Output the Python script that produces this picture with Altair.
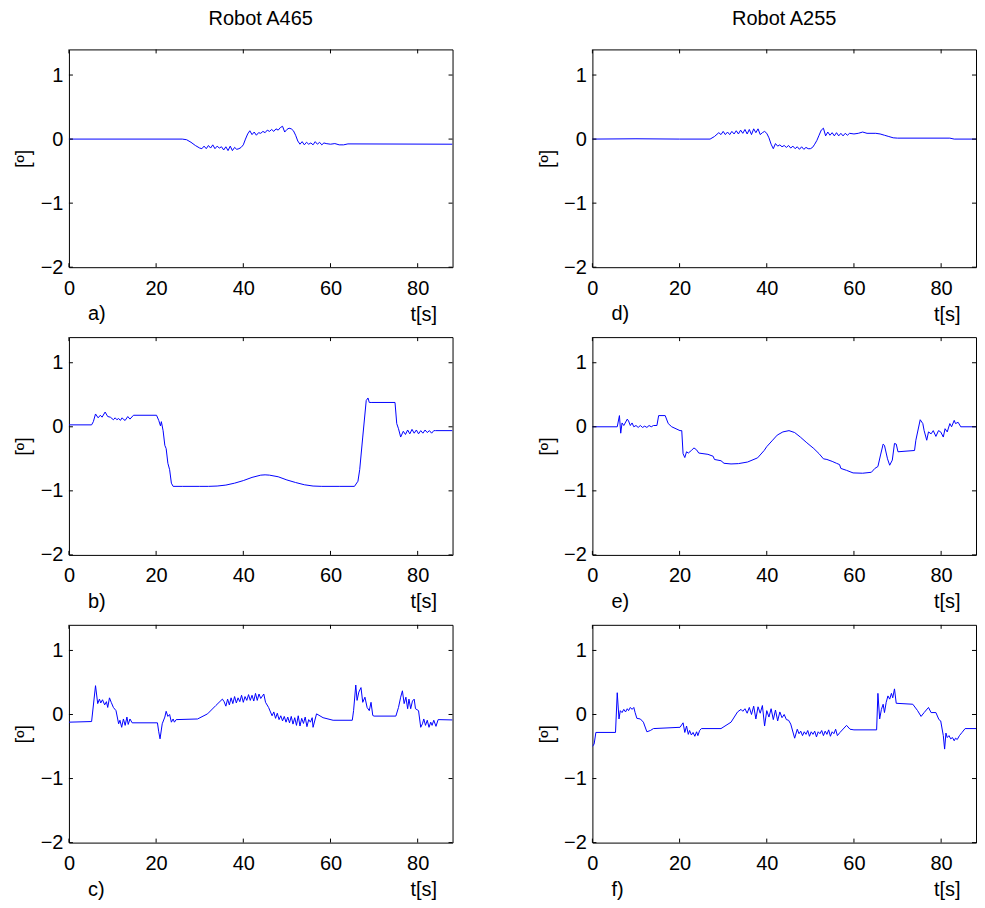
import altair as alt
import pandas as pd

FONT = "Liberation Sans, Arial, Helvetica, sans-serif"

# ---- data: (t [s], angle [º]) ----
a_pts = [(0, 0.0), (26, 0.0), (27, -0.01), (28, -0.05), (29, -0.10), (30, -0.14), (30.5, -0.15),
         (31, -0.11), (31.5, -0.15), (32, -0.10), (32.5, -0.14), (33, -0.09), (33.5, -0.15),
         (34, -0.11), (34.5, -0.14), (35, -0.12), (35.5, -0.17), (36, -0.12), (36.5, -0.18),
         (37, -0.11), (37.5, -0.18), (38, -0.13), (38.5, -0.16), (39, -0.15), (39.5, -0.13),
         (40, -0.09), (40.5, 0.0), (41, 0.08), (41.5, 0.13), (42, 0.07), (42.5, 0.11), (43, 0.06),
         (43.5, 0.10), (44, 0.09), (44.5, 0.12), (45, 0.10), (45.5, 0.14), (46, 0.12), (46.5, 0.15),
         (47, 0.12), (47.5, 0.16), (48, 0.14), (48.5, 0.18), (49, 0.20), (49.5, 0.11), (50, 0.15),
         (50.5, 0.17), (51, 0.16), (51.5, 0.13), (52, 0.06), (52.5, -0.03), (53, -0.08),
         (53.5, -0.04), (54, -0.09), (54.5, -0.05), (55, -0.08), (55.5, -0.06), (56, -0.09),
         (56.5, -0.04), (57, -0.08), (57.5, -0.05), (58, -0.09), (58.5, -0.06), (59, -0.07),
         (60, -0.08), (61, -0.07), (62, -0.09), (63, -0.09), (64, -0.075), (88, -0.08)]

d_pts = [(0, 0.0), (10, 0.005), (20, 0.0), (27, 0.0), (28, 0.04), (29, 0.10), (29.5, 0.07),
         (30, 0.12), (30.5, 0.07), (31, 0.11), (31.5, 0.07), (32, 0.12), (32.5, 0.08), (33, 0.13),
         (33.5, 0.08), (34, 0.14), (34.5, 0.09), (35, 0.15), (35.5, 0.08), (36, 0.15), (36.5, 0.07),
         (37, 0.16), (37.5, 0.10), (38, 0.16), (38.5, 0.07), (39, 0.10), (39.5, 0.12), (40, 0.09),
         (40.5, 0.02), (41, -0.08), (41.5, -0.15), (42, -0.07), (42.5, -0.11), (43, -0.09),
         (43.5, -0.12), (44, -0.10), (44.5, -0.13), (45, -0.10), (45.5, -0.14), (46, -0.11),
         (46.5, -0.15), (47, -0.12), (47.5, -0.16), (48, -0.12), (48.5, -0.16), (49, -0.13),
         (49.5, -0.15), (50, -0.15), (50.5, -0.13), (51, -0.08), (51.5, -0.02), (52, 0.06),
         (52.5, 0.14), (53, 0.17), (53.5, 0.05), (54, 0.11), (54.5, 0.06), (55, 0.10), (55.5, 0.05),
         (56, 0.10), (56.5, 0.05), (57, 0.09), (57.5, 0.05), (58, 0.09), (58.5, 0.06), (59, 0.09),
         (60, 0.08), (61, 0.09), (62, 0.11), (63, 0.09), (65, 0.09), (66, 0.08), (67, 0.06),
         (68, 0.04), (69, 0.02), (70, 0.015), (82, 0.015), (83, 0.0), (88, 0.0)]

b_pts = [(0, 0.03), (5.2, 0.03), (5.6, 0.08), (6.1, 0.20), (6.7, 0.14), (7.2, 0.18), (7.6, 0.15),
         (8.3, 0.23), (8.9, 0.16), (9.5, 0.15), (10.2, 0.11), (10.6, 0.14), (11.0, 0.11),
         (11.4, 0.13), (11.8, 0.10), (12.2, 0.14), (12.6, 0.11), (12.9, 0.10), (13.5, 0.16),
         (14.0, 0.12), (14.8, 0.18), (20.1, 0.18), (20.6, 0.10), (21.0, 0.015), (21.2, 0.08),
         (21.6, -0.06), (22.0, -0.29), (22.3, -0.34), (22.7, -0.57), (23.1, -0.67), (23.5, -0.88),
         (23.9, -0.93), (26, -0.93), (30, -0.93), (32, -0.93), (34, -0.925), (36, -0.91),
         (38, -0.88), (40, -0.84), (42, -0.79), (44, -0.755), (45, -0.75), (46, -0.755),
         (48, -0.78), (50, -0.83), (52, -0.87), (54, -0.905), (56, -0.925), (58, -0.93),
         (62, -0.93), (65.5, -0.93), (66.3, -0.85), (66.7, -0.67), (67.4, -0.16), (68.2, 0.41),
         (68.6, 0.45), (68.9, 0.38), (69.5, 0.38), (74.8, 0.38), (75.2, 0.05), (75.6, -0.03),
         (76.1, -0.16), (76.7, -0.07), (77.2, -0.12), (77.7, -0.05), (78.2, -0.11), (78.7, -0.04),
         (79.2, -0.10), (79.7, -0.05), (80.2, -0.11), (80.7, -0.06), (81.2, -0.10), (81.7, -0.05),
         (82.2, -0.09), (82.7, -0.06), (83.2, -0.10), (83.7, -0.06), (84.1, -0.06), (88, -0.06)]

e_pts = [(0, 0.0), (5.7, 0.0), (6.2, 0.175), (6.5, -0.10), (6.8, 0.06), (7.2, 0.02), (8.0, 0.12),
         (8.3, 0.09), (8.7, 0.02), (9.1, 0.06), (9.5, 0.0), (10.0, 0.02), (10.5, -0.01), (11.0, 0.02),
         (11.5, -0.01), (12.0, 0.01), (12.5, -0.01), (13.0, 0.02), (13.5, 0.0), (14.0, 0.02),
         (14.8, 0.02), (15.2, 0.175), (16.7, 0.175), (17.4, 0.05), (18.2, 0.0), (20.1, -0.06),
         (20.5, -0.06), (20.8, -0.42), (21.2, -0.48), (21.6, -0.39), (22.0, -0.41), (22.7, -0.37),
         (23.3, -0.33), (23.9, -0.36), (24.4, -0.41), (26.5, -0.43), (27.7, -0.46), (28.0, -0.51),
         (29.5, -0.53), (30.2, -0.57), (31.8, -0.58), (33.5, -0.575), (35.6, -0.55), (37.9, -0.485),
         (39.4, -0.37), (40.0, -0.31), (41.2, -0.22), (42.4, -0.13), (43.7, -0.08), (45.1, -0.06),
         (46.4, -0.09), (47.7, -0.16), (49.2, -0.25), (50.8, -0.34), (52.0, -0.42), (53.0, -0.50),
         (53.8, -0.51), (55.0, -0.54), (56.0, -0.57), (56.7, -0.59), (57.0, -0.65), (58.3, -0.68),
         (59.8, -0.72), (62.0, -0.725), (64.0, -0.71), (64.8, -0.65), (65.5, -0.62), (66.1, -0.44),
         (66.7, -0.27), (67.0, -0.29), (67.7, -0.50), (68.2, -0.60), (68.8, -0.52), (69.3, -0.26),
         (69.7, -0.27), (70.1, -0.39), (73.9, -0.37), (74.2, -0.21), (75.2, 0.11), (75.8, 0.05),
         (76.1, -0.06), (76.7, -0.21), (77.1, -0.08), (77.7, -0.11), (78.2, -0.06), (78.8, -0.15),
         (79.4, -0.06), (79.9, -0.08), (80.5, -0.16), (80.9, -0.03), (81.4, -0.08), (82.0, 0.05),
         (82.4, 0.0), (83.0, 0.10), (83.3, 0.05), (83.9, 0.07), (84.5, 0.0), (88, 0.0)]

c_pts = [(0, -0.12), (5.2, -0.11), (6.1, 0.45), (6.6, 0.17), (7.0, 0.24), (7.3, 0.18), (7.7, 0.23),
         (8.2, 0.15), (8.6, 0.20), (8.9, 0.11), (9.3, 0.26), (9.7, 0.19), (10.2, 0.11), (10.8, 0.06),
         (11.4, -0.145), (11.7, -0.09), (12.1, -0.20), (12.5, -0.07), (12.9, -0.17), (13.3, -0.04),
         (13.6, -0.155), (14.0, -0.07), (14.5, -0.13), (20.3, -0.13), (20.6, -0.27), (20.9, -0.38),
         (21.4, -0.145), (22.0, -0.04), (22.3, 0.05), (22.7, -0.03), (23.1, 0.0), (23.5, -0.12),
         (23.9, -0.07), (24.2, -0.12), (24.6, -0.08), (29.5, -0.07), (31.8, 0.01), (33.7, 0.14),
         (35.2, 0.24), (35.6, 0.20), (36.0, 0.13), (36.4, 0.24), (36.8, 0.15), (37.2, 0.26),
         (37.6, 0.17), (38.0, 0.28), (38.4, 0.18), (38.8, 0.26), (39.2, 0.20), (39.6, 0.30),
         (40.0, 0.19), (40.4, 0.28), (40.8, 0.22), (41.2, 0.31), (41.6, 0.22), (42.0, 0.30),
         (42.4, 0.21), (42.8, 0.33), (43.2, 0.22), (43.6, 0.32), (44.0, 0.25), (44.7, 0.32),
         (45.1, 0.19), (45.8, 0.11), (46.6, -0.02), (47.0, 0.04), (47.4, -0.06), (47.8, 0.02),
         (48.2, -0.08), (48.6, -0.02), (49.0, -0.10), (49.4, -0.03), (49.8, -0.12), (50.2, -0.04),
         (50.6, -0.13), (51.0, -0.03), (51.4, -0.15), (51.8, -0.05), (52.2, -0.17), (52.6, -0.02),
         (53.0, -0.18), (53.4, -0.06), (53.8, -0.14), (54.2, -0.04), (54.6, -0.19), (55.0, -0.08),
         (55.4, -0.12), (55.8, -0.05), (56.0, -0.20), (56.8, 0.01), (58.3, -0.05), (60.6, -0.09),
         (65.0, -0.09), (65.3, 0.06), (65.8, 0.46), (66.1, 0.22), (66.5, 0.35), (67.0, 0.42),
         (67.4, 0.19), (67.9, 0.27), (68.4, 0.11), (68.9, 0.06), (69.3, 0.19), (69.7, -0.015),
         (70.0, -0.025), (75.0, -0.025), (75.6, 0.11), (76.1, 0.27), (76.5, 0.37), (76.9, 0.17),
         (77.3, 0.27), (77.7, 0.09), (78.0, 0.24), (78.4, 0.09), (78.8, 0.21), (79.2, 0.24),
         (79.5, 0.09), (80.2, 0.06), (80.7, -0.20), (81.1, -0.145), (81.4, -0.07), (81.8, -0.17),
         (82.2, -0.09), (82.6, -0.20), (83.0, -0.12), (83.3, -0.17), (83.7, -0.09), (84.2, -0.185),
         (84.7, -0.08), (88, -0.085)]

f_pts = [(0, -0.50), (0.4, -0.46), (0.8, -0.28), (5.3, -0.28), (5.7, 0.34), (6.1, -0.07), (6.4, 0.06),
         (6.8, 0.03), (7.2, 0.08), (7.6, 0.04), (8.0, 0.09), (8.3, 0.06), (8.7, 0.11), (9.1, 0.08),
         (9.5, 0.11), (9.8, 0.03), (10.2, -0.06), (11.0, -0.07), (11.7, -0.12), (12.5, -0.27),
         (13.3, -0.25), (14.0, -0.22), (20.1, -0.20), (20.8, -0.13), (21.2, -0.28), (21.6, -0.18),
         (22.0, -0.31), (22.3, -0.25), (22.7, -0.32), (23.1, -0.28), (23.5, -0.34), (23.9, -0.27),
         (24.2, -0.33), (24.6, -0.25), (25.0, -0.22), (29.5, -0.22), (31.8, -0.12), (33.3, 0.04),
         (34.1, 0.08), (34.5, 0.05), (35.0, 0.09), (35.5, 0.02), (36.0, 0.11), (36.5, 0.0),
         (37.0, 0.13), (37.5, -0.07), (38.0, 0.12), (38.5, 0.02), (39.0, 0.14), (39.5, -0.18),
         (40.0, 0.06), (40.5, -0.04), (41.0, 0.09), (41.5, -0.08), (42.0, 0.07), (42.5, -0.10),
         (43.0, 0.04), (43.5, -0.05), (44.0, 0.0), (44.5, -0.08), (45.0, -0.09), (45.5, -0.15),
         (46.4, -0.37), (47.0, -0.23), (47.4, -0.30), (47.8, -0.26), (48.2, -0.33), (48.6, -0.27),
         (49.0, -0.31), (49.4, -0.25), (49.8, -0.34), (50.2, -0.27), (50.6, -0.31), (51.0, -0.26),
         (51.4, -0.35), (51.8, -0.27), (52.2, -0.30), (52.6, -0.25), (53.0, -0.33), (53.4, -0.26),
         (53.8, -0.31), (54.2, -0.24), (54.6, -0.34), (55.0, -0.27), (55.4, -0.30), (55.8, -0.23),
         (56.2, -0.33), (56.8, -0.28), (58.3, -0.17), (59.1, -0.23), (60.0, -0.24), (65.2, -0.24),
         (65.5, 0.33), (65.9, -0.07), (66.3, 0.08), (66.7, 0.16), (67.0, 0.03), (67.4, 0.19),
         (67.8, 0.29), (68.2, 0.24), (68.6, 0.33), (68.9, 0.26), (69.3, 0.40), (69.7, 0.175),
         (73.5, 0.16), (74.6, 0.06), (75.4, -0.03), (76.1, 0.03), (77.1, 0.11), (77.7, 0.03),
         (78.8, 0.03), (79.5, -0.08), (79.9, -0.10), (80.5, -0.33), (80.8, -0.54), (81.1, -0.29),
         (81.4, -0.36), (81.8, -0.33), (82.2, -0.38), (82.6, -0.36), (83.0, -0.41), (83.3, -0.37),
         (83.7, -0.39), (84.2, -0.33), (84.8, -0.28), (85.5, -0.22), (88, -0.22)]

x_ticks = [0, 20, 40, 60, 80]
y_ticks = [-2, -1, 0, 1]
x_domain = [0, 88]
y_domain = [-2, 1.4]
col_titles = ["Robot A465", "Robot A255"]

W, H = 384, 218
TICK = 4
LAB_Y = 47


def panel(pts, letter, title=None):
    df = pd.DataFrame(pts, columns=["t", "v"])
    xs = alt.Scale(domain=x_domain, nice=False, zero=False)
    ys = alt.Scale(domain=y_domain, nice=False, zero=False)
    xaxis = alt.Axis(values=x_ticks, format="d", title="t[s]", titleX=W - 16, titleY=LAB_Y,
                     titleAlign="right", titleBaseline="middle", labelPadding=11)
    yaxis = alt.Axis(values=y_ticks, format="d", title="[º]", labelPadding=6,
                     titleX=-45, titleY=H / 2, titleAngle=270, titleAlign="center",
                     titleBaseline="middle")
    line = alt.Chart(df).mark_line(color="#0000ff", strokeWidth=1, clip=True).encode(
        x=alt.X("t:Q", scale=xs, axis=xaxis),
        y=alt.Y("v:Q", scale=ys, axis=yaxis),
    )
    xt = pd.DataFrame({"t": x_ticks})
    yt = pd.DataFrame({"v": y_ticks})
    top = alt.Chart(xt).mark_rule(color="black", strokeWidth=1).encode(
        x=alt.X("t:Q", scale=xs, title="t[s]"), y=alt.value(0), y2=alt.value(TICK))
    bot = alt.Chart(xt).mark_rule(color="black", strokeWidth=1).encode(
        x=alt.X("t:Q", scale=xs, title="t[s]"), y=alt.value(H - TICK), y2=alt.value(H))
    left = alt.Chart(yt).mark_rule(color="black", strokeWidth=1).encode(
        y=alt.Y("v:Q", scale=ys, title="[º]"), x=alt.value(0), x2=alt.value(TICK))
    right = alt.Chart(yt).mark_rule(color="black", strokeWidth=1).encode(
        y=alt.Y("v:Q", scale=ys, title="[º]"), x=alt.value(W - TICK), x2=alt.value(W))
    lab = alt.Chart(pd.DataFrame({"lab": [letter]})).mark_text(
        align="left", baseline="middle", fontSize=20, font=FONT, color="black").encode(
        text="lab:N", x=alt.value(19), y=alt.value(H + LAB_Y))
    props = dict(width=W, height=H)
    if title:
        props["title"] = alt.TitleParams(title, fontSize=20, fontWeight="normal", font=FONT,
                                         color="black", frame="group", anchor="middle", offset=20)
    return alt.layer(line, top, bot, left, right, lab).properties(**props)


panels = [
    panel(a_pts, "a)", col_titles[0]), panel(d_pts, "d)", col_titles[1]),
    panel(b_pts, "b)"), panel(e_pts, "e)"),
    panel(c_pts, "c)"), panel(f_pts, "f)"),
]

chart = alt.concat(*panels, columns=2, spacing={"row": 70, "column": 140}, bounds="flush").properties(
    padding={"left": 5, "top": 0, "right": 0, "bottom": 0},
    background="white",
).configure_view(stroke="black", strokeWidth=1).configure_axis(
    domain=False, grid=False, ticks=False, labelFont=FONT, labelFontSize=20, labelColor="black",
    titleFont=FONT, titleFontSize=20, titleFontWeight="normal", titleColor="black",
    labelFlush=False, labelOverlap=False,
)

chart.save("out.html", embed_options={"renderer": "svg", "actions": False})
